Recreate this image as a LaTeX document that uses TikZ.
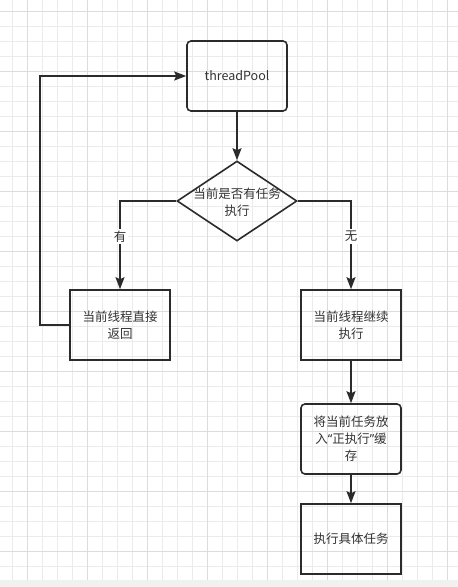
\documentclass[tikz,border=0pt]{standalone}
\usepackage{fontspec}
\setmainfont{Noto Sans CJK SC}
\newfontfamily\latinq{Noto Sans}
\usetikzlibrary{arrows.meta,shapes.geometric}
\definecolor{ink}{HTML}{2B2B2B}
\definecolor{txt}{HTML}{333333}
\definecolor{gminor}{HTML}{EBEBEB}
\definecolor{gmajor}{HTML}{DCDCDC}
\definecolor{band}{HTML}{F1F1F1}
\begin{document}
\begin{tikzpicture}[x=1pt,y=-1pt,
  box/.style={draw=ink, line width=1.6pt, minimum width=100pt, minimum height=70pt, inner sep=0pt, align=center, text=txt, font=\fontsize{12.5}{17}\selectfont},
  rbox/.style={box, rounded corners=4pt},
  decbox/.style={draw=ink, line width=1.6pt, shape=diamond, minimum width=120pt, minimum height=80pt, inner sep=0pt},
  dectext/.style={align=center, text=txt, font=\fontsize{12.5}{17}\selectfont, inner sep=0pt},
  arr/.style={draw=ink, line width=1.6pt, -{Stealth[length=12pt,width=9pt,inset=2pt]}},
  lbl/.style={fill=white, text=txt, font=\fontsize{12.5}{15}\selectfont, inner sep=2pt}
]
\useasboundingbox (0,0) rectangle (458,587);
\fill[white] (0,0) rectangle (458,587);
\foreach \i in {0,...,30} {
  \draw[gminor, line width=0.8pt] ({12.3+15*\i},0) -- ({12.3+15*\i},580);
}
\foreach \j in {0,...,38} {
  \draw[gminor, line width=0.8pt] (0,{11.7+15*\j}) -- (458,{11.7+15*\j});
}
\foreach \i in {0,...,7} {
  \draw[gmajor, line width=0.8pt] ({27.3+60*\i},0) -- ({27.3+60*\i},580);
}
\foreach \j in {0,...,9} {
  \draw[gmajor, line width=0.8pt] (0,{11.7+60*\j}) -- (458,{11.7+60*\j});
}
\fill[band] (0,580) rectangle (458,587);

\node[rbox] (tp) at (237,76) {threadPool};
\node[decbox] (dec) at (237,201) {};
\node[dectext] (dect) at (237,202) {当前是否有任务\\执行};
\node[box] (b1) at (120,325) {当前线程直接\\返回};
\node[box] (b2) at (351,325) {当前线程继续\\执行};
\node[rbox] (b3) at (351,439) {将当前任务放\\入{\latinq “}正执行{\latinq ”}缓\\存};
\node[box] (b4) at (351,539) {执行具体任务};
\coordinate (lp) at (40,325);

\draw[arr] (tp) -- (dec);
\draw[arr] (dec.west) -| node[lbl, pos=0.7] {有} (b1.north);
\draw[arr] (dec.east) -| node[lbl, pos=0.7] {无} (b2.north);
\draw[arr] (b1.west) -- (lp) |- (tp.west);
\draw[arr] (b2) -- (b3);
\draw[arr] (b3) -- (b4);
\end{tikzpicture}
\end{document}
